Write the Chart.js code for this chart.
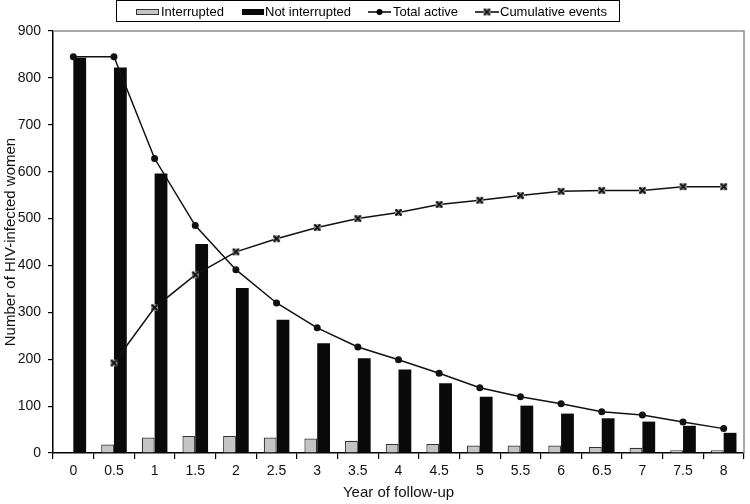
<!DOCTYPE html>
<html><head><meta charset="utf-8">
<script src="https://cdn.jsdelivr.net/npm/chart.js@4.4.0/dist/chart.umd.min.js"></script>
<style>html,body{margin:0;padding:0;background:#fff}#wrap{width:750px;height:504px;position:relative}</style>
</head><body><div id="wrap"><canvas id="c"></canvas></div>
<script>
const years = ['0','0.5','1','1.5','2','2.5','3','3.5','4','4.5','5','5.5','6','6.5','7','7.5','8'];
const interrupted = [0,18,33,36,36,33,31,26,19,19,16,16,16,13,11,6,6];
const notInterrupted = [843,822,596,446,352,284,234,202,178,149,120,101,84,74,67,58,43];
const totalActive = [845,845,628,485,391,320,267,226,199,170,139,120,105,88,81,66,52];
const cumulativeEvents = [null,192,310,380,429,457,481,500,513,530,539,549,558,560,560,568,568];
const yTicks = [0,100,200,300,400,500,600,700,800,900];
const seriesNames = ['Interrupted','Not interrupted','Total active','Cumulative events'];

const FONT = 'Arial, "Liberation Sans", sans-serif';

function makeXMarker(){
  const c = document.createElement('canvas');
  c.width = 9; c.height = 9;
  const g = c.getContext('2d');
  g.fillStyle = '#9a9a9a';
  g.fillRect(1,1,7,7);
  g.strokeStyle = '#111';
  g.lineWidth = 1.8;
  g.beginPath();
  g.moveTo(1.5,1.5); g.lineTo(7.5,7.5);
  g.moveTo(7.5,1.5); g.lineTo(1.5,7.5);
  g.stroke();
  return c;
}
const xMarker = makeXMarker();

const frame = {
  id:'frame',
  beforeDatasetsDraw(chart){
    const {ctx, chartArea:a} = chart;
    ctx.save();
    ctx.strokeStyle = '#8c8c8c';
    ctx.lineWidth = 1.5;
    ctx.beginPath();
    ctx.moveTo(a.left, a.top);
    ctx.lineTo(a.right, a.top);
    ctx.lineTo(a.right, a.bottom);
    ctx.stroke();
    ctx.restore();
  }
};

const legendBox = {
  id:'legendBox',
  afterDraw(chart){
    const ctx = chart.ctx;
    ctx.save();
    ctx.strokeStyle = '#000';
    ctx.lineWidth = 1;
    ctx.strokeRect(116.5, 0.5, 503, 21);
    ctx.font = '13px ' + FONT;
    ctx.textBaseline = 'middle';
    ctx.fillStyle = '#000';
    const cy = 12;
    ctx.fillStyle = '#c4c4c4';
    ctx.fillRect(136, 9, 23, 6);
    ctx.strokeStyle = '#333'; ctx.strokeRect(136.5, 9.5, 22, 5);
    ctx.fillStyle = '#000';
    ctx.fillText(seriesNames[0], 161, cy);
    ctx.fillStyle = '#0a0a0a';
    ctx.fillRect(242, 9, 22, 6);
    ctx.fillStyle = '#000';
    ctx.fillText(seriesNames[1], 265, cy);
    ctx.strokeStyle = '#000'; ctx.lineWidth = 1.5;
    ctx.beginPath(); ctx.moveTo(368, cy); ctx.lineTo(391, cy); ctx.stroke();
    ctx.beginPath(); ctx.arc(379.5, cy, 3, 0, Math.PI*2); ctx.fill();
    ctx.fillText(seriesNames[2], 393, cy);
    ctx.beginPath(); ctx.moveTo(475, cy); ctx.lineTo(499, cy); ctx.stroke();
    ctx.drawImage(xMarker, 482.5, cy-4.5);
    ctx.fillText(seriesNames[3], 500, cy);
    ctx.restore();
  }
};

new Chart(document.getElementById('c'), {
  type:'bar',
  data:{
    labels: years,
    datasets:[
      {label:seriesNames[2], type:'line', data: totalActive, order:0,
       borderColor:'#111', borderWidth:1.5, backgroundColor:'#111',
       pointStyle:'circle', pointRadius:3.5, pointBorderWidth:0, tension:0},
      {label:seriesNames[3], type:'line', data: cumulativeEvents, order:0,
       borderColor:'#111', borderWidth:1.5, backgroundColor:'#111',
       pointStyle: xMarker, pointRadius:4.5, tension:0, spanGaps:false},
      {label:seriesNames[0], data: interrupted, order:1,
       backgroundColor:'#c4c4c4', borderColor:'#333', borderWidth:1.2,
       categoryPercentage:0.63, barPercentage:1.0},
      {label:seriesNames[1], data: notInterrupted, order:1,
       backgroundColor:'#0a0a0a', borderColor:'#0a0a0a', borderWidth:0,
       categoryPercentage:0.63, barPercentage:1.0}
    ]
  },
  options:{
    responsive:true, maintainAspectRatio:false, animation:false,
    layout:{padding:{top:31, right:3, left:0, bottom:0}},
    plugins:{legend:{display:false}, tooltip:{enabled:false}},
    scales:{
      x:{
        grid:{drawOnChartArea:false, offset:true, tickLength:6, color:'#000', lineWidth:1.2},
        border:{color:'#000', width:1.5},
        ticks:{color:'#111', font:{family:FONT, size:14}, padding:4, maxRotation:0, autoSkip:false},
        title:{display:true, text:'Year of follow-up', color:'#111', font:{family:FONT, size:15}, padding:{top:0,bottom:2}},
        afterFit(s){ s.height = 51; }
      },
      y:{
        min:0, max:900,
        afterBuildTicks(s){ s.ticks = yTicks.map(v=>({value:v})); },
        grid:{drawOnChartArea:false, tickLength:5, color:'#000', lineWidth:1.2},
        border:{color:'#000', width:1.5},
        ticks:{color:'#111', font:{family:FONT, size:14}, padding:7},
        title:{display:true, text:'Number of HIV-infected women', color:'#111', font:{family:FONT, size:15}, padding:{top:2,bottom:0}},
        afterFit(s){ s.width = 53; }
      }
    }
  },
  plugins:[frame, legendBox]
});
</script>
</body></html>
